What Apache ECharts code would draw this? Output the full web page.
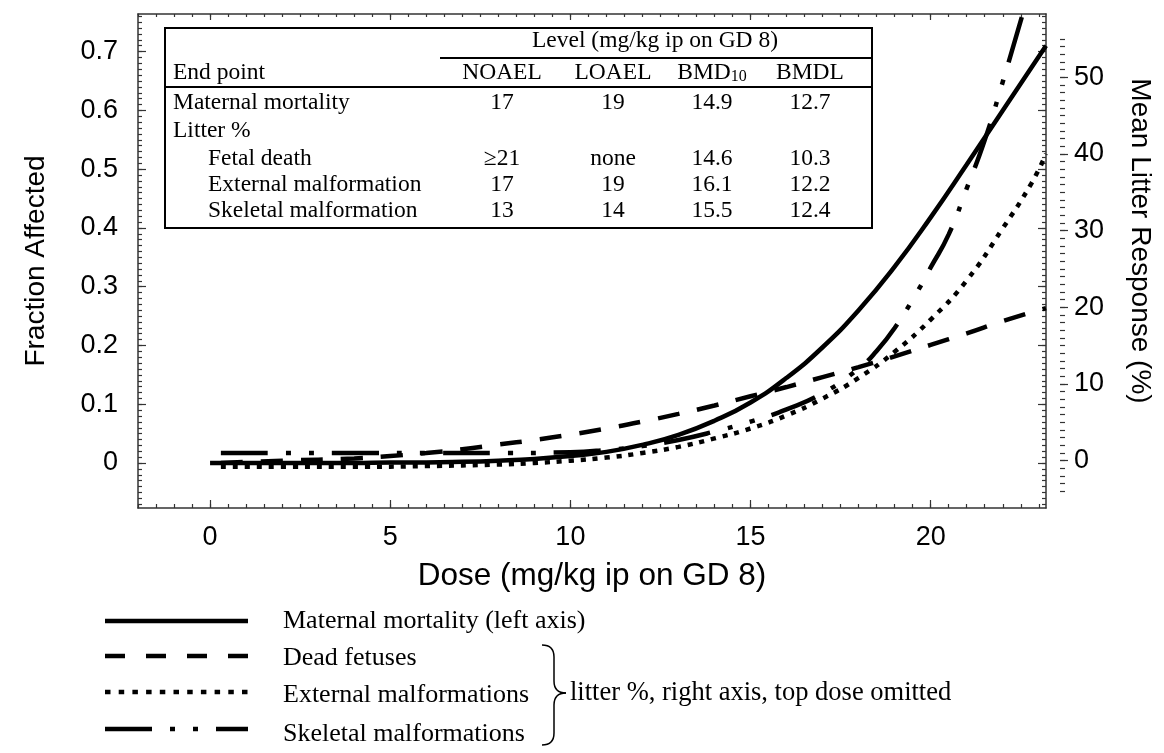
<!DOCTYPE html>
<html><head><meta charset="utf-8">
<script src="https://cdn.jsdelivr.net/npm/echarts@6/dist/echarts.min.js"></script>
<style>html,body{margin:0;padding:0;background:#fff}#c{width:1164px;height:753px}</style>
</head><body><div id="c"></div>
<script>
// ---- data ----
const maternalDose = [0,1,2,3,4,5,6,7,8,9,10,11,12,13,14,15,16,17,18,19,20,21,22,23.2];
const maternalFraction = [0,0,0,0,0,0.001,0.001,0.002,0.004,0.007,0.012,0.019,0.031,0.048,0.072,0.103,0.145,0.197,0.26,0.334,0.418,0.508,0.60,0.71];

const deadDose = [0.3,2,4,5,6,7,8,9,10,11,12,13,14,15,16,17,18,19,20,21,22,23.2];
const deadPct = [-0.3,0,0.3,0.6,1.0,1.5,2.1,2.7,3.4,4.2,5.1,6.1,7.2,8.4,9.6,10.9,12.2,13.6,15.1,16.6,18.2,19.9];

const extDose = [0.3,2,4,6,8,9,10,11,12,13,14,15,16,17,18,19,20,21,22,22.8,23.2];
const extPct = [-0.8,-0.8,-0.8,-0.7,-0.5,-0.3,0,0.4,1.0,1.8,2.9,4.2,5.9,8.1,10.8,14.2,18.4,23.5,30.3,36.2,40];

const skelDose = [0.3,2,4,6,8,10,11,12,13,14,15,16,17,18,18.5,19,19.6,20,20.5,21,21.5,22,22.55];
const skelPct = [1.0,1.0,1.0,1.0,1.0,1.1,1.4,1.9,2.7,3.8,5.1,6.7,8.8,12.0,14.3,17.3,21.8,25.2,29.5,35.5,41.8,49.4,58.2];

const xTickLabels = [0,5,10,15,20];
const leftTickLabels = [0,0.1,0.2,0.3,0.4,0.5,0.6,0.7];
const rightTickLabels = [0,10,20,30,40,50];

const seriesNames = ['Maternal mortality (left axis)','Dead fetuses','External malformations','Skeletal malformations'];
const noteText = 'litter %, right axis, top dose omitted';

const tableColumns = ['NOAEL','LOAEL','BMD{sub|10}','BMDL'];
const tableEndpoints = ['Maternal mortality','Litter %','Fetal death','External malformation','Skeletal malformation'];
const tableIndent = [false,false,true,true,true];
const tableNOAEL = ['17','','≥21','17','13'];
const tableLOAEL = ['19','','none','19','14'];
const tableBMD10 = ['14.9','','14.6','16.1','15.5'];
const tableBMDL = ['12.7','','10.3','12.2','12.4'];

// ---- layout ----
const X_MIN=-2, X_MAX=23.2, L_MIN=-0.0765, L_MAX=0.764, R_MIN=-6.17, R_MAX=58.24;
function range(a,b,s){const o=[];for(let v=a;v<=b+1e-9;v+=s)o.push(Math.round(v*1000)/1000);return o;}
const xMinor = range(-2,23,0.5);
const leftMinor = range(-0.07,0.76,0.01);
const rightMinor = range(-4,55,1);

const AX = '#333';
const sans = 'Liberation Sans, Arial, sans-serif';
const serif = 'Liberation Serif, Times New Roman, serif';
const numFont = {fontFamily:sans, fontSize:27, color:'#000'};
function zip(a,b){return a.map((v,i)=>[v,b[i]]);}

function xa(pos, ticks, len, showLine, showLabel){
  return {type:'value', min:X_MIN, max:X_MAX, position:pos, gridIndex:0,
    splitLine:{show:false},
    axisLine:{show:showLine, onZero:false, lineStyle:{color:AX,width:1.5}},
    axisTick:{show:true, inside:true, length:len, customValues:ticks, lineStyle:{color:AX,width:1.2}},
    axisLabel:{show:showLabel, customValues:ticks, margin:16, ...numFont}};
}
function ya(pos, min, max, ticks, len, inside, showLine, labels, offset){
  return {type:'value', min:min, max:max, position:pos, offset:offset||0, gridIndex:0,
    splitLine:{show:false},
    axisLine:{show:showLine, onZero:false, lineStyle:{color:AX,width:1.5}},
    axisTick:{show:true, inside:inside, length:len, customValues:ticks, lineStyle:{color:AX,width:1.2}},
    axisLabel:{show:!!labels, customValues:labels||ticks, margin:labels&&pos==='left'?20:14, ...numFont,
      padding: pos==='left'?[5,0,0,0]:[8,0,0,0],
      formatter:v=> (pos==='left' ? (v===0?'0':v.toFixed(1)) : String(v))}};
}

const xAxes = [
  Object.assign(xa('bottom', xTickLabels, 8, true, true), {name:'Dose (mg/kg ip on GD 8)', nameLocation:'middle', nameGap:52,
     nameTextStyle:{fontFamily:sans, fontSize:31.5, color:'#000'}}),
  xa('bottom', xMinor, 4, false, false),
  xa('top', xTickLabels, 6, true, false),
  xa('top', xMinor, 3, false, false)
];
const yAxes = [
  Object.assign(ya('left', L_MIN, L_MAX, leftTickLabels, 8, true, true, leftTickLabels), {name:'Fraction Affected', nameLocation:'middle', nameGap:88,
     nameTextStyle:{fontFamily:sans, fontSize:28, color:'#000'}}),
  ya('left', L_MIN, L_MAX, leftMinor, 4, true, false, null),
  ya('right', L_MIN, L_MAX, leftTickLabels, 8, true, true, null),
  ya('right', L_MIN, L_MAX, leftMinor, 4, true, false, null),
  ya('right', R_MIN, R_MAX, rightTickLabels, 8, false, false, rightTickLabels, 14),
  ya('right', R_MIN, R_MAX, rightMinor, 5, false, false, null, 14)
];

const lw = 4.5;
const dashes = ['solid', [22,18], [5,7], [47,18,5,18,5,18]];
const series = [
  {name:seriesNames[0], type:'line', xAxisIndex:0, yAxisIndex:0, data:zip(maternalDose,maternalFraction), smooth:true, symbol:'none',
    lineStyle:{color:'#000', width:lw, type:dashes[0]}, z:5},
  {name:seriesNames[1], type:'line', xAxisIndex:0, yAxisIndex:4, data:zip(deadDose,deadPct), smooth:true, symbol:'none',
    lineStyle:{color:'#000', width:lw, type:dashes[1], cap:'butt'}, z:4},
  {name:seriesNames[2], type:'line', xAxisIndex:0, yAxisIndex:4, data:zip(extDose,extPct), smooth:true, symbol:'none',
    lineStyle:{color:'#000', width:lw, type:dashes[2], cap:'butt'}, z:4},
  {name:seriesNames[3], type:'line', xAxisIndex:0, yAxisIndex:4, data:zip(skelDose,skelPct), smooth:true, symbol:'none',
    lineStyle:{color:'#000', width:lw, type:dashes[3], cap:'butt'}, z:4}
];

// ---- table (graphic) ----
const TBL = {l:165, t:28, r:872, b:228};
const colX = [502,613,712,810];
const rowY = [103,131,159,185,211];
const g = [];
g.push({type:'rect', shape:{x:TBL.l,y:TBL.t,width:TBL.r-TBL.l,height:TBL.b-TBL.t}, style:{fill:'#fff',stroke:'#000',lineWidth:2}, z:10});
g.push({type:'line', shape:{x1:440,y1:58,x2:TBL.r,y2:58}, style:{stroke:'#000',lineWidth:2}, z:11});
g.push({type:'line', shape:{x1:TBL.l,y1:87,x2:TBL.r,y2:87}, style:{stroke:'#000',lineWidth:2}, z:11});
function txt(s,x,y,align,size){return {type:'text', x:x, y:y, z:12, style:{text:s, font:(size||23.5)+'px '+serif, fill:'#000', align:align||'left', verticalAlign:'middle',
   rich:{sub:{fontSize:16, fontFamily:serif, verticalAlign:'bottom', padding:[8,0,0,0]}}}};}
g.push(txt('Level (mg/kg ip on GD 8)', 655, 41, 'center'));
g.push(txt('End point', 173, 73));
tableColumns.forEach((c,i)=>g.push(txt(c, colX[i], 73, 'center')));
tableEndpoints.forEach((e,i)=>{
  g.push(txt(e, tableIndent[i]?208:173, rowY[i]));
  [tableNOAEL,tableLOAEL,tableBMD10,tableBMDL].forEach((col,j)=>{ if(col[i]) g.push(txt(col[i], colX[j], rowY[i], 'center')); });
});
// right axis title
g.push({type:'text', x:1140, y:241, rotation:-Math.PI/2, z:10,
  style:{text:'Mean Litter Response (%)', font:'28px '+sans, fill:'#000', align:'center', verticalAlign:'middle'}});
// ---- legend (graphic) ----
const legLineY = [621,656,692,729];
const legTextY = [621,658,695,734];
const legDash = [null,[20,21],[5.5,8.2],[47,18,5,18,5,18]];
seriesNames.forEach((n,i)=>{
  g.push({type:'line', shape:{x1:105,y1:legLineY[i],x2:248,y2:legLineY[i]},
    style:{stroke:'#000', lineWidth:lw, lineDash:legDash[i], lineCap:'butt'}, z:10});
  g.push(txt(n, 283, legTextY[i], 'left', 26));
});
// brace + note
const bs = {fill:null, stroke:'#000', lineWidth:1.5};
g.push({type:'bezierCurve', shape:{x1:542,y1:645,cpx1:554,cpy1:645,x2:554,y2:657}, style:bs, z:10});
g.push({type:'line', shape:{x1:554,y1:657,x2:554,y2:681}, style:bs, z:10});
g.push({type:'bezierCurve', shape:{x1:554,y1:681,cpx1:554,cpy1:693,x2:566,y2:693}, style:bs, z:10});
g.push({type:'bezierCurve', shape:{x1:566,y1:693,cpx1:554,cpy1:693,x2:554,y2:705}, style:bs, z:10});
g.push({type:'line', shape:{x1:554,y1:705,x2:554,y2:733}, style:bs, z:10});
g.push({type:'bezierCurve', shape:{x1:554,y1:733,cpx1:554,cpy1:745,x2:542,y2:745}, style:bs, z:10});
g.push(txt(noteText, 570, 693, 'left', 26.5));

const chart = echarts.init(document.getElementById('c'), null, {renderer:'canvas'});
chart.setOption({
  animation:false,
  backgroundColor:'#fff',
  grid:{left:138, top:14, width:908, height:494, containLabel:false},
  xAxis:xAxes, yAxis:yAxes, series:series,
  graphic:g
});
</script></body></html>
